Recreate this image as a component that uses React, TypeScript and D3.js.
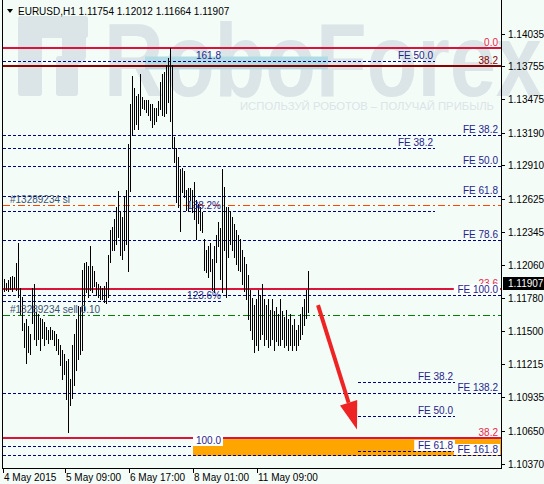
import { format, scaleLinear } from "d3";

// EURUSD H1, bars from 4 May 2015
const symbol = "EURUSD,H1";
const lastBar = [1.11754, 1.12012, 1.11664, 1.11907]; // open high low close

const highs = [
  1.1194, 1.1191, 1.1193, 1.1196, 1.1197, 1.1196, 1.1208, 1.1225, 1.1187, 1.1179,
  1.1157, 1.116, 1.1154, 1.1147, 1.1187, 1.119, 1.1166, 1.1164, 1.1161, 1.116,
  1.1158, 1.1153, 1.1151, 1.1153, 1.1151, 1.115, 1.1147, 1.1143, 1.1138, 1.1134,
  1.113, 1.1124, 1.1126, 1.1109, 1.1138, 1.1147, 1.116, 1.1171, 1.117, 1.1202,
  1.1208, 1.1209, 1.1205, 1.1222, 1.1205, 1.1201, 1.1192, 1.119, 1.1188, 1.1187,
  1.1188, 1.1192, 1.1215, 1.1236, 1.1239, 1.1245, 1.1256, 1.1269, 1.1251, 1.1247,
  1.1265, 1.127, 1.1309, 1.1343, 1.1367, 1.1357, 1.135, 1.1352, 1.1369, 1.1349,
  1.1347, 1.1347, 1.1347, 1.1343, 1.1343, 1.134, 1.134, 1.1346, 1.1362, 1.1369,
  1.1371, 1.1377, 1.1383, 1.1391, 1.1377, 1.1315, 1.1306, 1.1298, 1.1288, 1.1289,
  1.1286, 1.127, 1.1272, 1.1272, 1.127, 1.1277, 1.1262, 1.1258, 1.1256, 1.1251,
  1.1228, 1.1219, 1.1222, 1.1225, 1.1211, 1.1222, 1.1232, 1.1243, 1.1238, 1.1288,
  1.1273, 1.1256, 1.1256, 1.1252, 1.1247, 1.1241, 1.1236, 1.1232, 1.1228, 1.1219,
  1.1213, 1.1207, 1.1198, 1.1185, 1.1178, 1.1172, 1.1177, 1.1185, 1.1181, 1.119,
  1.1177, 1.1172, 1.1177, 1.1168, 1.1177, 1.1167, 1.117, 1.1164, 1.1177, 1.1167,
  1.1162, 1.1168, 1.116, 1.1164, 1.1155, 1.116, 1.1151, 1.1155, 1.1164, 1.117,
  1.1177, 1.1185, 1.12012,
];

const lows = [
  1.1184, 1.1185, 1.1184, 1.1186, 1.1184, 1.1187, 1.1185, 1.1179, 1.1164, 1.1151,
  1.1136, 1.1123, 1.1132, 1.113, 1.1157, 1.1143, 1.1138, 1.1143, 1.1134, 1.1144,
  1.1138, 1.1143, 1.114, 1.1143, 1.1143, 1.1138, 1.1134, 1.113, 1.1121, 1.1109,
  1.1113, 1.1092, 1.1064, 1.1087, 1.1093, 1.1104, 1.1117, 1.1126, 1.113, 1.1134,
  1.1168, 1.1183, 1.1179, 1.1185, 1.1183, 1.1188, 1.1181, 1.1179, 1.1177, 1.1177,
  1.1175, 1.1174, 1.1179, 1.1209, 1.1219, 1.1219, 1.1224, 1.123, 1.1215, 1.1211,
  1.1219, 1.1224, 1.1201, 1.1269, 1.1317, 1.1322, 1.1326, 1.1322, 1.1334, 1.134,
  1.1339, 1.1337, 1.1334, 1.133, 1.1324, 1.1326, 1.1329, 1.1334, 1.1339, 1.1334,
  1.1333, 1.1336, 1.1345, 1.1329, 1.1306, 1.1294, 1.126, 1.1256, 1.1235, 1.1268,
  1.1264, 1.1253, 1.1252, 1.1262, 1.1251, 1.1245, 1.1228, 1.1242, 1.1236, 1.1234,
  1.1202, 1.12, 1.1196, 1.1201, 1.1185, 1.1183, 1.1209, 1.1222, 1.1194, 1.1183,
  1.1219, 1.1179, 1.1213, 1.1224, 1.1219, 1.1213, 1.1207, 1.1202, 1.1201, 1.119,
  1.1184, 1.1177, 1.116, 1.1151, 1.1143, 1.1132, 1.1138, 1.1134, 1.1143, 1.1147,
  1.1138, 1.1143, 1.1136, 1.1138, 1.1143, 1.1134, 1.1141, 1.1138, 1.1138, 1.1143,
  1.1136, 1.1138, 1.1134, 1.1138, 1.1134, 1.1138, 1.1134, 1.1138, 1.1143, 1.1147,
  1.1155, 1.1161, 1.11664,
];

const priceTicks = [
  1.14035, 1.13755, 1.13475, 1.1319, 1.1291, 1.12625, 1.12345, 1.1206, 1.1178,
  1.115, 1.11215, 1.10935, 1.1065, 1.1037,
];
const timeLabels = ["4 May 2015", "5 May 09:00", "6 May 17:00", "8 May 01:00", "11 May 09:00"];
const timeLabelBars = [0, 31, 63, 95, 127];

// fibonacci objects
const retracePrices = [1.1391, 1.11857, 1.10588];
const retraceLabels = ["0.0", "23.6", "38.2"];
const upperRetracePrice = 1.13755;
const upperRetraceLabel = "38.2";

const feFullPrices = [1.13166, 1.12902, 1.12646, 1.12279, 1.11802, 1.10971, 1.10443];
const feFullLabels = ["FE 38.2", "FE 50.0", "FE 61.8", "FE 78.6", "FE 100.0", "FE 138.2", "FE 161.8"];

const feMidPrices = [1.13797, 1.13767, 1.13055, 1.12526];
const feMidLabels = ["FE 50.0", "", "FE 38.2", ""];
const feMidEnd = 215.5;

const feLowPrices = [1.11065, 1.10775, 1.10477];
const feLowLabels = ["FE 38.2", "FE 50.0", "FE 61.8"];
const feLowBars = [177, 225.5];

const pctPrices = [1.13797, 1.12526, 1.11751, 1.10515];
const pctLabels = ["161.8", "138.2%", "123.6%", "100.0"];
const pctEnd = 109.5;

// trade
const stopPrice = 1.12577;
const stopLabel = "#13289234 sl";
const entryPrice = 1.11636;
const entryLabel = "#13289234 sell 0.10";

// zones and arrow
const targetZone = [1.10578, 1.10434];
const targetZoneStart = 94.5;
const highlightZone = [1.13839, 1.13729];
const highlightZoneBars = [70.5, 162];
const arrowBars = [157, 176.5];
const arrowPrices = [1.1172, 1.1066];

const W = 544;
const H = 484;
const plotLeft = 3;
const plotRight = 501;
const plotBottom = 468;
const bg = "#f4fcf8";
const navy = "#000080";
const feText = "#24248c";
const font = "'Liberation Sans', Arial, sans-serif";
const fmt = format(".5f");

export default function App() {
  const x = scaleLinear()
    .domain([0, highs.length - 1])
    .range([4, 4 + 2 * (highs.length - 1)]);
  const y = scaleLinear()
    .domain([priceTicks[priceTicks.length - 1], priceTicks[0]])
    .range([463.5, 33.5]);

  const py = (p: number) => Math.round(y(p)) + 0.5;
  const approxWidth = (s: string) => s.length * 5.4;

  const dashed = (p: number, x1: number, x2: number, key: string) => (
    <line key={key} x1={x1} x2={x2} y1={py(p)} y2={py(p)} stroke={navy} strokeDasharray="3,2" />
  );

  const label = (
    text: string,
    right: number,
    p: number,
    color: string,
    key: string,
    boxed = false,
  ) => {
    if (!text) return null;
    const base = Math.round(y(p)) - 2;
    const w = approxWidth(text);
    return (
      <g key={key}>
        {boxed && <rect x={right - w - 1} y={base - 9} width={w + 3} height={11} fill="#ffffff" />}
        <text x={right} y={base} textAnchor="end" fill={color}>
          {text}
        </text>
      </g>
    );
  };

  const boxedFor = (p: number) => p <= targetZone[0] + 0.0003;

  // arrow geometry
  const ax1 = x(arrowBars[0]);
  const ay1 = y(arrowPrices[0]);
  const ax2 = x(arrowBars[1]);
  const ay2 = y(arrowPrices[1]);
  const ang = Math.atan2(ay2 - ay1, ax2 - ax1);
  const headLen = 28;
  const headHalf = 9;
  const bx = ax2 - headLen * Math.cos(ang);
  const by = ay2 - headLen * Math.sin(ang);
  const nx = -Math.sin(ang);
  const ny = Math.cos(ang);
  const head = `M${ax2},${ay2}L${bx + nx * headHalf},${by + ny * headHalf}L${bx - nx * headHalf},${by - ny * headHalf}Z`;

  return (
    <svg
      width={W}
      height={H}
      style={{ position: "fixed", left: 0, top: 0, fontFamily: font }}
    >
      <rect width={W} height={H} fill={bg} />

      {/* watermark */}
      <g fill="#dbe4e6">
        <rect x={18} y={16} width={24} height={80} rx={3} />
        <rect x={18} y={16} width={70} height={22} rx={3} />
        <rect x={62} y={16} width={24} height={48} rx={8} />
        <rect x={56} y={56} width={22} height={40} rx={3} />
        <text x={104} y={96} fontSize={104} fontWeight={700} textLength={438} lengthAdjust="spacingAndGlyphs">
          RoboForex
        </text>
        <text x={240} y={110} fontSize={11} textLength={254} lengthAdjust="spacingAndGlyphs">
          ИСПОЛЬЗУЙ РОБОТОВ – ПОЛУЧАЙ ПРИБЫЛЬ
        </text>
      </g>

      {/* highlight zone near the top */}
      <rect
        x={x(highlightZoneBars[0])}
        y={y(highlightZone[0])}
        width={x(highlightZoneBars[1]) - x(highlightZoneBars[0])}
        height={y(highlightZone[1]) - y(highlightZone[0])}
        fill="#b2dce4"
      />

      {/* percent expansion lines */}
      {pctPrices.map((p, i) => dashed(p, plotLeft, x(pctEnd), `pl${i}`))}

      {/* target zone */}
      <rect
        x={x(targetZoneStart)}
        y={y(targetZone[0])}
        width={plotRight - x(targetZoneStart)}
        height={y(targetZone[1]) - y(targetZone[0])}
        fill="#ffa500"
      />

      {/* FE lines */}
      {feMidPrices.map((p, i) => dashed(p, plotLeft, x(feMidEnd), `ml${i}`))}
      {feFullPrices.map((p, i) => dashed(p, plotLeft, plotRight, `fl${i}`))}
      {feLowPrices.map((p, i) => dashed(p, x(feLowBars[0]), x(feLowBars[1]), `ll${i}`))}

      {/* retracement lines */}
      {retracePrices.map((p, i) => (
        <line key={`r${i}`} x1={plotLeft} x2={plotRight} y1={Math.round(y(p))} y2={Math.round(y(p))} stroke="#dc143c" strokeWidth={2.2} />
      ))}
      <line x1={plotLeft} x2={plotRight} y1={Math.round(y(upperRetracePrice))} y2={Math.round(y(upperRetracePrice))} stroke="#8b0000" strokeWidth={2} />

      {/* trade lines */}
      <line x1={plotLeft} x2={plotRight} y1={py(stopPrice)} y2={py(stopPrice)} stroke="#ff4500" strokeDasharray="7,3,2,3" />
      <line x1={plotLeft} x2={plotRight} y1={py(entryPrice)} y2={py(entryPrice)} stroke="#008000" strokeDasharray="7,3,2,3" />

      {/* bars */}
      <g stroke="#000" strokeWidth={1}>
        {highs.map((h, i) => {
          const bx0 = Math.round(x(i)) + 0.5;
          const t = Math.round(y(h));
          const b = Math.max(Math.round(y(lows[i])), t + 1);
          return <line key={i} x1={bx0} x2={bx0} y1={t} y2={b + 1} />;
        })}
      </g>

      {/* labels */}
      <g fontSize={10}>
        {retracePrices.map((p, i) => label(retraceLabels[i], plotRight - 3, p, "#e8284a", `rt${i}`))}
        {label(upperRetraceLabel, plotRight - 3, upperRetracePrice, "#8b0000", "urt")}
        {pctLabels.map((t, i) => label(t, x(pctEnd) - 2, pctPrices[i], feText, `pt${i}`, boxedFor(pctPrices[i])))}
        {feMidLabels.map((t, i) => label(t, x(feMidEnd) - 2, feMidPrices[i], feText, `mt${i}`))}
        {feLowLabels.map((t, i) => label(t, x(feLowBars[1]) - 2, feLowPrices[i], feText, `lt${i}`, boxedFor(feLowPrices[i])))}
        {feFullLabels.map((t, i) =>
          label(t, plotRight - 3, feFullPrices[i], feText, `ft${i}`, boxedFor(feFullPrices[i]) || t === "FE 100.0"),
        )}
        <text x={10} y={Math.round(y(stopPrice)) - 2} fill="#3a5572">{stopLabel}</text>
        <text x={10} y={Math.round(y(entryPrice)) - 2} fill="#3a5572">{entryLabel}</text>
      </g>

      {/* arrow */}
      <line x1={ax1} y1={ay1} x2={bx} y2={by} stroke="#ee2424" strokeWidth={4} />
      <path d={head} fill="#ee2424" />

      {/* axes */}
      <g stroke="#000" strokeWidth={1} fill="none">
        <line x1={plotLeft - 0.5} x2={plotLeft - 0.5} y1={0} y2={plotBottom + 0.5} />
        <line x1={plotRight + 0.5} x2={plotRight + 0.5} y1={0} y2={plotBottom + 0.5} />
        <line x1={plotLeft - 1} x2={plotRight + 1} y1={plotBottom + 0.5} y2={plotBottom + 0.5} />
        {priceTicks.map((t) => (
          <line key={t} x1={plotRight} x2={plotRight + 4} y1={py(t)} y2={py(t)} />
        ))}
        {timeLabelBars.map((b) => (
          <line key={b} x1={Math.round(x(b)) - 0.5} x2={Math.round(x(b)) - 0.5} y1={plotBottom} y2={plotBottom + 5} />
        ))}
      </g>
      <g fontSize={10} fill="#000">
        {priceTicks.map((t) => (
          <text key={t} x={508} y={Math.round(y(t)) + 4}>
            {fmt(t)}
          </text>
        ))}
        {timeLabels.map((t, i) => (
          <text key={t} x={Math.round(x(timeLabelBars[i]))} y={481}>
            {t}
          </text>
        ))}
      </g>

      {/* current price */}
      <rect x={503} y={Math.round(y(lastBar[3])) - 6} width={41} height={13} fill="#000" />
      <text x={508} y={Math.round(y(lastBar[3])) + 4} fontSize={10} fill="#fff">
        {fmt(lastBar[3])}
      </text>

      {/* header */}
      <path d="M7,9L13,9L10,13Z" fill="#000" />
      <text x={18} y={15} fontSize={10} fill="#000">
        {`${symbol}  ${lastBar.map((v) => fmt(v)).join(" ")}`}
      </text>
    </svg>
  );
}
